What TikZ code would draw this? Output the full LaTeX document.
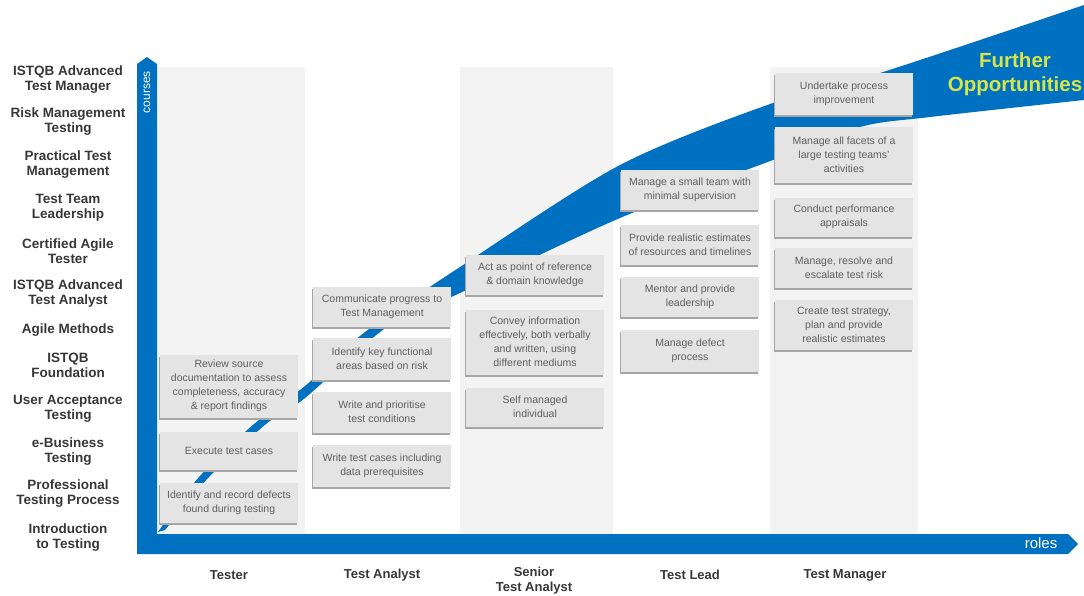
\documentclass[tikz,border=0pt]{standalone}
\usepackage{fontspec}
\setmainfont{Liberation Sans}
\usetikzlibrary{shadows}
\definecolor{roleblue}{RGB}{0,112,192}
\definecolor{colgray}{RGB}{243,243,243}
\definecolor{boxgray}{RGB}{228,228,228}
\definecolor{boxtext}{RGB}{95,95,95}
\definecolor{labelgray}{RGB}{55,55,55}
\definecolor{limegreen}{RGB}{214,230,72}

\begin{document}
\begin{tikzpicture}[x=1pt,y=-1pt,
  task/.style={fill=boxgray,text=boxtext,align=center,minimum width=138pt,inner sep=1pt,
    font=\fontsize{10.5}{14}\selectfont,
    drop shadow={shadow xshift=-1.5pt,shadow yshift=-2pt,fill=black!35,opacity=1}},
  course/.style={text=labelgray,align=center,font=\fontsize{13.5}{15}\selectfont\bfseries},
  role/.style={text=labelgray,align=center,font=\fontsize{13}{15}\selectfont\bfseries}]
       \useasboundingbox (0,0) rectangle (1084,595);
       \fill[colgray] (157,67) rectangle (305,534);
       \fill[colgray] (460,67) rectangle (613,534);
       \fill[colgray] (770,67) rectangle (918,534);
       % career swoosh
       \fill[roleblue] plot[smooth] coordinates {(158,532) (199,477) (254,424) (305,386)
         (365,332) (460,267) (620,165) (773,103) (880,73) (1084,5)}
         -- plot[smooth] coordinates {(1084,100) (930,117) (860,127) (773,160)
         (620,218) (460,293) (387,327) (305,398) (266,424) (209,477) (165,530)} -- cycle;
       % axes
       \fill[roleblue] (137,554) -- (137,64) -- (147,57) -- (157,64) -- (157,534)
         -- (1068,534) -- (1078,544) -- (1068,554) -- cycle;
       \node[rotate=90,text=white,font=\fontsize{12}{14}\selectfont] (crs) at (147,92) {courses};
       \node[text=white,font=\fontsize{15}{17}\selectfont] (rls) at (1041,543) {roles};
       \node[text=limegreen,align=center,font=\fontsize{20.5}{24}\selectfont\bfseries] (further)
         at (1015,74) {Further\\Opportunities};

       \node[course] (atm) at (68,80) {ISTQB Advanced\\Test Manager};
       \node[course] (rmt) at (68,122) {Risk Management\\Testing};
       \node[course] (ptm) at (68,165) {Practical Test\\Management};
       \node[course] (ttl) at (68,208) {Test Team\\Leadership};
       \node[course] (cat) at (68,251) {Certified Agile\\Tester};
       \node[course] (ata) at (68,294) {ISTQB Advanced\\Test Analyst};
       \node[course] (agm) at (68,330) {Agile Methods};
       \node[course] (fnd) at (68,365) {ISTQB\\Foundation};
       \node[course] (uat) at (68,409) {User Acceptance\\Testing};
       \node[course] (ebt) at (68,452) {e-Business\\Testing};
       \node[course] (ptp) at (68,494) {Professional\\Testing Process};
       \node[course] (itt) at (68,538) {Introduction\\to Testing};

       \node[role] (tester) at (229,575) {Tester};
       \node[role] (analyst) at (382,575) {Test Analyst};
       \node[role] (senior) at (534,581) {Senior\\Test Analyst};
       \node[role] (lead) at (690,575) {Test Lead};
       \node[role] (manager) at (845,575) {Test Manager};

       % tester
       \node[task,minimum height=63pt] (review) at (229,386) {Review source\\documentation to assess\\completeness, accuracy\\\& report findings};
       \node[task,minimum height=38pt] (execute) at (229,451) {Execute test cases};
       \node[task,minimum height=40pt] (record) at (229,503) {Identify and record defects\\found during testing};
       % test analyst
       \node[task,minimum height=40pt] (progress) at (382,307) {Communicate progress to\\Test Management};
       \node[task,minimum height=42pt] (areas) at (382,359) {Identify key functional\\areas based on risk};
       \node[task,minimum height=41pt] (conditions) at (382,412) {Write and prioritise\\test conditions};
       \node[task,minimum height=42pt] (cases) at (382,466) {Write test cases including\\data prerequisites};
       % senior test analyst
       \node[task,minimum height=40pt] (reference) at (535,275) {Act as point of reference\\\& domain knowledge};
       \node[task,minimum height=65pt] (convey) at (535,342) {Convey information\\effectively, both verbally\\and written, using\\different mediums};
       \node[task,minimum height=39pt] (selfman) at (535,407) {Self managed\\individual};
       % test lead
       \node[task,minimum height=40pt] (smallteam) at (690,190) {Manage a small team with\\minimal supervision};
       \node[task,minimum height=40pt] (estimates) at (690,245) {Provide realistic estimates\\of resources and timelines};
       \node[task,minimum height=40pt] (mentor) at (690,297) {Mentor and provide\\leadership};
       \node[task,minimum height=42pt] (defect) at (690,351) {Manage defect\\process};
       % test manager
       \node[task,minimum height=42pt] (improve) at (844,94) {Undertake process\\improvement};
       \node[task,minimum height=56pt] (facets) at (844,155) {Manage all facets of a\\large testing teams'\\activities};
       \node[task,minimum height=39pt] (appraise) at (844,217) {Conduct performance\\appraisals};
       \node[task,minimum height=40pt] (risk) at (844,268) {Manage, resolve and\\escalate test risk};
       \node[task,minimum height=50pt] (strategy) at (844,325) {Create test strategy,\\plan and provide\\realistic estimates};
      \end{tikzpicture}
\end{document}
